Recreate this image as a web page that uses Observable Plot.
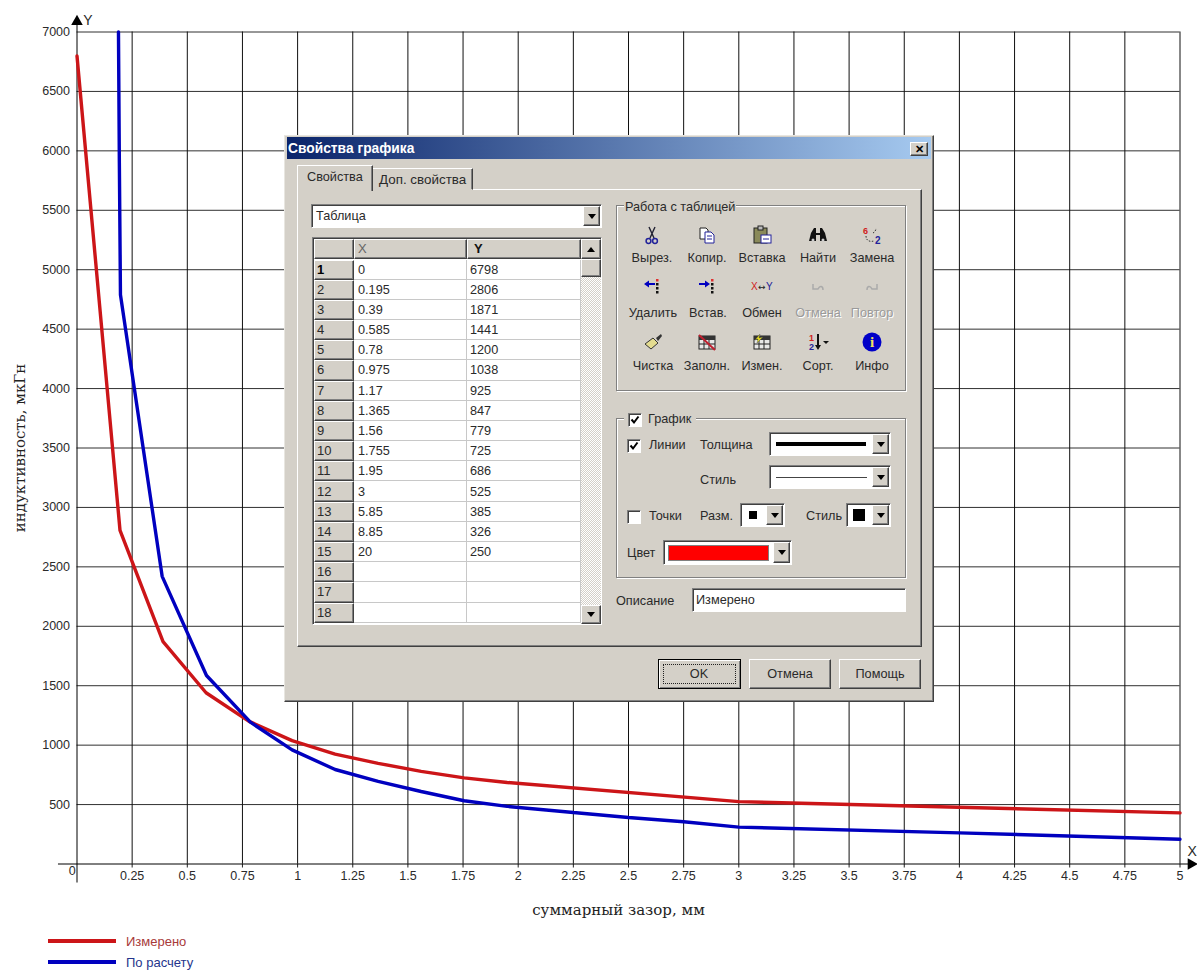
<!DOCTYPE html>
<html lang="ru">
<head>
<meta charset="utf-8">
<title>Индуктивность</title>
<script src="https://cdn.jsdelivr.net/npm/d3@7"></script>
<script src="https://cdn.jsdelivr.net/npm/@observablehq/plot@0.6"></script>
<style>
html,body{margin:0;padding:0;background:#fff;overflow:hidden}
#page{position:relative;width:1197px;height:970px;font-family:"Liberation Sans",Arial,sans-serif;color:#222}
#page svg{display:block}
.a{position:absolute;box-sizing:border-box}
.t{position:absolute;white-space:nowrap;font-size:12.7px;line-height:14px;color:#2a2a2a}
</style>
</head>
<body>
<div id="page"></div>
<script>
// ---- data ----
const xTicks = [0.25,0.5,0.75,1,1.25,1.5,1.75,2,2.25,2.5,2.75,3,3.25,3.5,3.75,4,4.25,4.5,4.75,5];
const yTicks = [500,1000,1500,2000,2500,3000,3500,4000,4500,5000,5500,6000,6500,7000];
const measuredX = ["0","0.195","0.39","0.585","0.78","0.975","1.17","1.365","1.56","1.755","1.95","3","5.85","8.85","20"];
const measuredY = [6798,2806,1871,1441,1200,1038,925,847,779,725,686,525,385,326,250];
const measuredEndX = 5, measuredEndY = 430;
const calcX = [0.188,0.192,0.197,0.386,0.587,0.786,0.975,1.17,1.365,1.56,1.755,1.95,2.25,2.5,2.75,3,4,5];
const calcY = [7000,5900,4790,2420,1586,1193,960,795,695,610,532,485,433,391,355,310,262,208];
const seriesNames = ["Измерено","По расчету"];
const seriesColors = ["#cc1518","#0000bf"];
const xLabel = "суммарный зазор, мм";
const yLabel = "индуктивность, мкГн";

const measured = measuredX.map((x,i)=>({x:+x,y:measuredY[i]})).filter(d=>d.x<=measuredEndX).concat([{x:measuredEndX,y:measuredEndY}]);
const calculated = calcX.map((x,i)=>({x,y:calcY[i]}));

// ---- chart ----
const tickFont = {fontFamily:"'Liberation Sans',Arial,sans-serif",fontSize:12.5,fill:"#2a2a2a"};
const chart = Plot.plot({
  width:1197,height:970,
  marginLeft:76.5,marginRight:17.5,marginTop:31.5,marginBottom:106.5,
  style:{background:"#fff",fontFamily:"'Liberation Sans',Arial,sans-serif",fontSize:"12.5px",color:"#2a2a2a"},
  x:{domain:[0,5],type:"linear"},
  y:{domain:[0,7000],type:"linear"},
  marks:[
    Plot.gridY(yTicks,{stroke:"#303030",strokeOpacity:1,strokeWidth:1}),
    Plot.gridX(xTicks,{stroke:"#101010",strokeOpacity:1,strokeWidth:1}),
    Plot.axisX(xTicks,{anchor:"bottom",tickSize:4,tickPadding:3,stroke:"#222",tickFormat:d=>String(d),label:xLabel,labelAnchor:"center",labelArrow:"none",labelOffset:51,...tickFont}),
    Plot.axisY(yTicks,{anchor:"left",tickSize:0,tickPadding:7,tickFormat:d=>String(d),label:yLabel,labelAnchor:"center",labelArrow:"none",labelOffset:63,...tickFont}),
    Plot.ruleX([0],{y1:-160,y2:7090,stroke:"#000",strokeWidth:1}),
    Plot.ruleY([0],{x1:-0.084,x2:5.05,stroke:"#000",strokeWidth:1}),
    Plot.dot([{x:0,y:7088}],{x:"x",y:"y",symbol:"triangle",r:4.3,fill:"#000",stroke:"none"}),
    Plot.dot([{x:5.05,y:0}],{x:"x",y:"y",symbol:"triangle",r:4.3,fill:"#000",stroke:"none",rotate:90}),
    Plot.text(["Y"],{x:()=>0.05,y:()=>7097,text:d=>d,...tickFont,fontSize:14}),
    Plot.text(["X"],{x:()=>5.055,y:()=>105,text:d=>d,...tickFont,fontSize:14}),
    Plot.text(["0"],{x:()=>-0.022,y:()=>-60,text:d=>d,...tickFont}),
    Plot.line(measured,{x:"x",y:"y",stroke:seriesColors[0],strokeWidth:3.4,strokeLinejoin:"miter"}),
    Plot.line(calculated,{x:"x",y:"y",stroke:seriesColors[1],strokeWidth:3.4,strokeLinejoin:"miter"})
  ]
});
const page = document.getElementById("page");
page.appendChild(chart);
for (const [sel,dx] of [['[aria-label="x-axis label"] text',-10],['[aria-label="y-axis label"] text',0]]) {
  chart.querySelectorAll(sel).forEach(t=>{
    t.style.fontFamily="'DejaVu Serif',serif";
    t.style.fontSize="15px";
    t.setAttribute("fill","#222");
    if(dx) t.setAttribute("dx",dx);
  });
}

// ---- legend ----
function box(x,y,w,h,css=""){const d=document.createElement("div");d.className="a";d.style.cssText=`left:${x}px;top:${y}px;width:${w}px;height:${h}px;${css}`;page.appendChild(d);return d;}
function txt(x,cy,s,css=""){const d=document.createElement("div");d.className="t";d.textContent=s;d.style.cssText=`left:${x}px;top:${cy-7}px;${css}`;page.appendChild(d);return d;}
function ctxt(cx,cy,s,css=""){const d=txt(cx,cy,s,"transform:translateX(-50%);"+css);return d;}
box(48,939.3,68,3.4,`background:${seriesColors[0]}`);
box(48,960.3,68,3.4,`background:${seriesColors[1]}`);
txt(126,941.5,seriesNames[0],"font-size:13px;color:#a83a3a");
txt(126,962.5,seriesNames[1],"font-size:13px;color:#25358c");

// ---- dialog window overlaid on the chart ----
const RAISED="border:1px solid;border-color:#fff #404040 #404040 #fff;box-shadow:inset -1px -1px 0 #808080;background:#d4d0c8;";
const SUNK="border:1px solid;border-color:#808080 #fff #fff #808080;box-shadow:inset 1px 1px 0 #404040;background:#fff;";
box(284,135,650,567,"background:#d4d0c8;border:1px solid;border-color:#e8e6e0 #404040 #404040 #e8e6e0;box-shadow:inset -1px -1px 0 #808080");
box(287,137,644,22,"background:linear-gradient(90deg,#0a246a,#a6caf0)");
txt(288,148.5,"Свойства графика","color:#fff;font-weight:bold;font-size:13.8px");
const close=box(910,142,18,14,RAISED);
ctxt(919,149,"✕","font-size:11px;font-weight:bold;color:#000");
// tab panel
box(297,189,625,458,"background:#d4d0c8;border:1px solid;border-color:#fff #404040 #404040 #fff;box-shadow:inset -1px -1px 0 #808080");
box(372,168,101,22,"background:#d4d0c8;border:1px solid;border-color:#fff #404040 transparent #fff;box-shadow:inset -1px 0 0 #808080");
box(297,165,76,26,"background:#d4d0c8;border:1px solid;border-color:#fff #404040 transparent #fff;border-bottom:none;box-shadow:inset -1px 0 0 #808080");
txt(307,177,"Свойства");
txt(379,180,"Доп. свойства","font-size:13.4px");
function arrowBtn(x,y,w,h,dir){
  box(x,y,w,h,RAISED);
  const s=document.createElementNS("http://www.w3.org/2000/svg","svg");
  s.setAttribute("class","a");s.setAttribute("width",8);s.setAttribute("height",5);s.setAttribute("viewBox","0 0 8 5");
  s.style.cssText=`left:${x+(w-8)/2}px;top:${y+(h-5)/2}px`;
  const p=document.createElementNS("http://www.w3.org/2000/svg","path");
  p.setAttribute("d",dir==="up"?"M4 0 L8 5 L0 5 Z":"M0 0 L8 0 L4 5 Z");p.setAttribute("fill","#000");s.appendChild(p);page.appendChild(s);
}
function combo(x,y,w,h){box(x,y,w,h,SUNK);arrowBtn(x+w-19,y+2,17,h-4,"down");}
combo(311,204,291,24);
txt(316,216,"Таблица");
// table
box(312,237,290,388,SUNK+"background:#fff");
const rowH=20.18, firstRow=259.5;
box(314,239,40,20,RAISED);box(354,239,113,20,RAISED);box(467,239,114,20,RAISED);
txt(358,249,"X","color:#666;font-size:13px");
txt(474,249,"Y","font-weight:bold;color:#111;font-size:13px");
for(let i=0;i<18;i++){
  const y=firstRow+i*rowH;
  box(314,y,40,rowH,RAISED);
  txt(317,y+rowH/2,String(i+1),"font-size:13px;"+(i===0?"font-weight:bold;color:#000":""));
  box(354,y,113,rowH,"background:#fff;border-right:1px solid #c8c8c8;border-bottom:1px solid #c8c8c8");
  box(467,y,114,rowH,"background:#fff;border-right:1px solid #c8c8c8;border-bottom:1px solid #c8c8c8");
  if(i<measuredX.length){
    txt(358,y+rowH/2,measuredX[i],"font-size:12.7px");
    txt(470,y+rowH/2,String(measuredY[i]),"font-size:12.7px");
  }
}
box(581,239,20,385,"background:repeating-conic-gradient(#d4d0c8 0 25%,#fff 0 50%) 0 0/2px 2px");
arrowBtn(581,239,20,20,"up");
box(581,259,20,18,RAISED);
arrowBtn(581,605,20,19,"down");
// group boxes
const GROUP="border:1px solid #808080;box-shadow:1px 1px 0 #fff,inset 1px 1px 0 #fff;";
box(616,205,290,186,GROUP);
txt(624,207,"Работа с таблицей","background:#d4d0c8;padding:0 1px");
box(616,418,290,160,GROUP);
// toolbar
const NS="http://www.w3.org/2000/svg";
function icon(cx,cy,inner){const s=document.createElementNS(NS,"svg");s.setAttribute("class","a");s.setAttribute("width",22);s.setAttribute("height",22);s.setAttribute("viewBox","0 0 22 22");s.style.cssText=`left:${cx-11}px;top:${cy-11}px`;s.innerHTML=inner;page.appendChild(s);}
const DOTS=`<g fill="#111"><rect x="14" y="3" width="2.5" height="2.5" fill="#e03030"/><rect x="14" y="7" width="2.5" height="2.5"/><rect x="14" y="11" width="2.5" height="2.5"/><rect x="14" y="15" width="2.5" height="2.5"/></g>`;
const GRID=`<rect x="3" y="5" width="16" height="13" fill="#e8e8e8" stroke="#222"/><rect x="3" y="5" width="16" height="4" fill="#333"/><path d="M3 13H19M8 9V18M13 9V18" stroke="#222"/>`;
const tools=[
 {n:"Вырез.",x:652,y:235,l:258,i:`<g fill="none" stroke="#223" stroke-width="1.4"><path d="M8 3L13 14M14 3L9 14"/></g><circle cx="7.5" cy="17" r="2.4" fill="none" stroke="#22229a" stroke-width="1.5"/><circle cx="14" cy="17" r="2.4" fill="none" stroke="#22229a" stroke-width="1.5"/>`},
 {n:"Копир.",x:707,y:235,l:258,i:`<path d="M4 4H10L12 6V15H4Z" fill="#fff" stroke="#222"/><path d="M9 8H15L18 11V19H9Z" fill="#fff" stroke="#22229a"/><path d="M11 12H16M11 15H16" stroke="#22229a"/>`},
 {n:"Вставка",x:762,y:235,l:258,i:`<rect x="3" y="4" width="13" height="15" fill="#8a8a5a" stroke="#222"/><rect x="7" y="2" width="5" height="4" fill="#bbb" stroke="#222"/><rect x="10" y="11" width="10" height="8" fill="#fff" stroke="#22229a"/><path d="M12 15H18" stroke="#22229a"/>`},
 {n:"Найти",x:818,y:235,l:258,i:`<path d="M4 9L7 4H9V9H13V4H15L18 9L20 17H13V11H9V17H2Z" fill="#111"/><circle cx="6" cy="16" r="1.5" fill="#ccc"/><circle cx="16" cy="16" r="1.5" fill="#ccc"/>`},
 {n:"Замена",x:872,y:235,l:258,i:`<text x="2" y="10" font-size="9" font-weight="bold" fill="#d02020" font-family="Liberation Sans">6</text><text x="14" y="20" font-size="10" font-weight="bold" fill="#22229a" font-family="Liberation Sans">2</text><path d="M5 12C5 17 9 18 13 17M12 9C14 8 15 6 15 4" fill="none" stroke="#333" stroke-dasharray="1.5 1.5"/>`},
 {n:"Удалить",x:653,y:287,l:313,i:`<path d="M2 8L7 4.5V7H13V9H7V11.5Z" fill="#0000c0"/>`+DOTS},
 {n:"Встав.",x:708,y:287,l:313,i:`<path d="M13 8L8 4.5V7H2V9H8V11.5Z" fill="#0000c0"/>`+DOTS},
 {n:"Обмен",x:762,y:287,l:313,i:`<text x="0" y="14" font-size="10" fill="#d02020" font-family="Liberation Sans">X</text><text x="7" y="14" font-size="9" fill="#222" font-family="DejaVu Sans">↔</text><text x="15" y="14" font-size="10" fill="#22229a" font-family="Liberation Sans">Y</text>`},
 {n:"Отмена",x:818,y:287,l:313,g:1,i:`<path d="M6 8V13L11 13C13 9 16 10 16 14" fill="none" stroke="#aaa" stroke-width="1.5"/>`},
 {n:"Повтор",x:872,y:287,l:313,g:1,i:`<path d="M16 8V13L11 13C9 9 6 10 6 14" fill="none" stroke="#aaa" stroke-width="1.5"/>`},
 {n:"Чистка",x:653,y:342,l:366,i:`<path d="M3 13L11 7L16 12L9 18Z" fill="#e4dc90" stroke="#333"/><path d="M14 7L19 3L20 5L16 10Z" fill="#333"/>`},
 {n:"Заполн.",x:707,y:342,l:366,i:GRID+`<path d="M3 4L19 19" stroke="#c02030" stroke-width="2"/>`},
 {n:"Измен.",x:762,y:342,l:366,i:GRID+`<path d="M4 9L9 3L8 7L12 6L6 12L7 8Z" fill="#e8e020" stroke="#444" stroke-width=".4"/>`},
 {n:"Сорт.",x:818,y:342,l:366,i:`<text x="2" y="10" font-size="9" font-weight="bold" fill="#d02020" font-family="Liberation Sans">1</text><text x="2" y="19" font-size="9" font-weight="bold" fill="#22229a" font-family="Liberation Sans">2</text><path d="M10 3H12V14H14L11 19L8 14H10Z" fill="#111"/><path d="M16 10H22L19 13Z" fill="#111"/>`},
 {n:"Инфо",x:872,y:342,l:366,i:`<circle cx="11" cy="11" r="9.5" fill="#0000c8"/><text x="11" y="16" text-anchor="middle" font-size="15" font-weight="bold" fill="#f0e060" font-family="Liberation Serif">i</text>`}
];
for(const t of tools){icon(t.x,t.y,t.i);ctxt(t.x,t.l,t.n,t.g?"color:#9a9a9a;text-shadow:1px 1px 0 #fff":"");}
// check boxes
function check(x,cy,on){box(x,cy-6.5,14,14,SUNK);if(on){const s=document.createElementNS(NS,"svg");s.setAttribute("class","a");s.setAttribute("width",14);s.setAttribute("height",14);s.setAttribute("viewBox","0 0 14 14");s.style.cssText=`left:${x}px;top:${cy-6.5}px`;s.innerHTML=`<path d="M3.5 6.5L6 9.5L10.5 3.5" fill="none" stroke="#000" stroke-width="2"/>`;page.appendChild(s);}}
box(624,412,72,14,"background:#d4d0c8");
check(628,419,true);
txt(648,419,"График");
check(627,445,true);
txt(649,445,"Линии");
txt(700,445,"Толщина");
combo(769,432,122,24);
box(776,442,90,3.5,"background:#000");
txt(700,480,"Стиль");
combo(769,465,122,24);
box(776,477,91,1,"background:#444");
check(627,516,false);
txt(649,516,"Точки");
txt(700,516,"Разм.");
combo(740,503,45,24);
box(749,511,8,8,"background:#000");
txt(806,516,"Стиль");
combo(846,503,45,24);
box(853,509,12,12,"background:#000");
txt(627,553,"Цвет");
combo(663,540,129,25);
box(668,545,101,16,"background:#f00;border:1px solid #808080");
txt(616,601,"Описание");
box(692,588,214,24,SUNK);
txt(696,600,"Измерено");
// buttons
box(658,659,83,30,"background:#d4d0c8;border:1px solid #000;box-shadow:inset 1px 1px 0 #fff,inset -1px -1px 0 #808080");
box(663,664,73,20,"border:1px dotted #222");
ctxt(699,674,"OK");
box(749,659,82,30,RAISED);ctxt(790,674,"Отмена");
box(839,659,82,30,RAISED);ctxt(880,674,"Помощь");
</script>
</body>
</html>
